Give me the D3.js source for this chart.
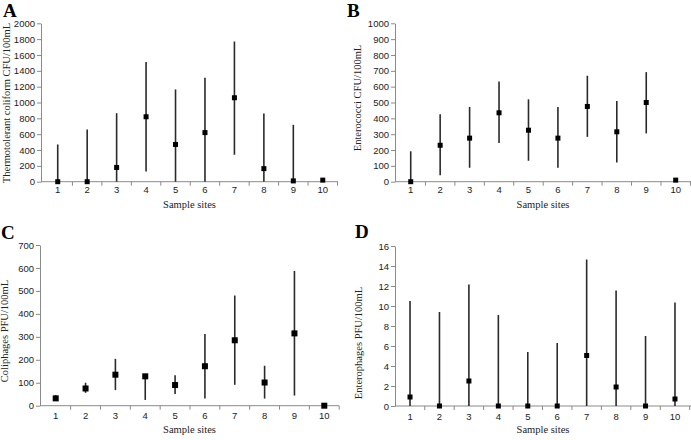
<!DOCTYPE html>
<html>
<head>
<meta charset="utf-8">
<script src="https://cdn.jsdelivr.net/npm/d3@7"></script>
<style>
  html, body { margin: 0; padding: 0; background: #fff; }
  svg { display: block; }
</style>
</head>
<body>
<svg id="chart" width="691" height="440"></svg>
<script>
// ---- Data ----
const sites = ["1","2","3","4","5","6","7","8","9","10"];

// Panel A: Thermotolerant coliform CFU/100mL
const aMean = [0, 0, 180, 820, 470, 620, 1060, 165, 10, 20];
const aLow  = [0, 0, 0, 130, 0, 0, 340, 0, 0, null];
const aHigh = [470, 660, 865, 1510, 1165, 1312, 1770, 860, 718, null];
const aTicks = [0,200,400,600,800,1000,1200,1400,1600,1800,2000];

// Panel B: Enterococci CFU/100mL
const bMean = [0, 230, 275, 435, 325, 275, 475, 315, 500, 10];
const bLow  = [0, 40, 88, 245, 132, 88, 283, 122, 305, null];
const bHigh = [192, 426, 472, 632, 520, 472, 669, 510, 692, null];
const bTicks = [0,100,200,300,400,500,600,700,800,900,1000];

// Panel C: Coliphages PFU/100mL
const cMean = [32, 75, 135, 128, 90, 172, 285, 101, 315, 0];
const cLow  = [22, 56, 68, 25, 51, 31, 91, 31, 44, null];
const cHigh = [46, 100, 204, 132, 133, 312, 480, 174, 587, null];
const cTicks = [0,100,200,300,400,500,600,700];

// Panel D: Enterophages PFU/100mL
const dMean = [0.9, 0, 2.5, 0, 0, 0, 5.05, 1.9, 0, 0.7];
const dLow  = [0, 0, 0, 0, 0, 0, 0, 0, 0, 0];
const dHigh = [10.5, 9.4, 12.15, 9.1, 5.4, 6.3, 14.65, 11.55, 7.0, 10.35];
const dTicks = [0,2,4,6,8,10,12,14,16];

const svg = d3.select("#chart");

const panels = [
  { letter: "A", lx: 3, ly: 17, mean: aMean, low: aLow, high: aHigh, ticks: aTicks, ymax: 2000,
    yLabel: "Thermotolerant coliform CFU/100mL", ylX: 8, ylY: 103, x0: 41, xr: [43, 337.5], xEnd: 338,
    top: 23.3, bottom: 181.7, tickPad: 5, xLabelY: 208, marker: 5 },
  { letter: "B", lx: 347, ly: 17, mean: bMean, low: bLow, high: bHigh, ticks: bTicks, ymax: 1000,
    yLabel: "Enterococci CFU/100mL", ylX: 359, ylY: 98, x0: 395, xr: [396, 690.4], xEnd: 691,
    top: 23.3, bottom: 181.7, tickPad: 5, xLabelY: 208, marker: 5 },
  { letter: "C", lx: 1, ly: 239, mean: cMean, low: cLow, high: cHigh, ticks: cTicks, ymax: 700,
    yLabel: "Coliphages PFU/100mL", ylX: 6, ylY: 331, x0: 40, xr: [40.8, 339.2], xEnd: 339,
    top: 245, bottom: 405.7, tickPad: 7, xLabelY: 433, marker: 6 },
  { letter: "D", lx: 355, ly: 238, mean: dMean, low: dLow, high: dHigh, ticks: dTicks, ymax: 16,
    yLabel: "Enterophages PFU/100mL", ylX: 360, ylY: 343, x0: 395, xr: [395.3, 689.7], xEnd: 691,
    top: 246, bottom: 406, tickPad: 7, xLabelY: 433, marker: 5 }
];

panels.forEach(p => {
  const g = svg.append("g");
  const x = d3.scaleBand().domain(sites).range(p.xr).padding(0);
  const y = d3.scaleLinear().domain([0, p.ymax]).range([p.bottom, p.top]);

  // Panel letter
  g.append("text")
    .attr("x", p.lx).attr("y", p.ly)
    .attr("font-family", "Liberation Serif, serif")
    .attr("font-weight", "bold")
    .attr("font-size", 19)
    .attr("fill", "#000")
    .text(p.letter);

  // Y axis
  const yAxis = d3.axisLeft(y).tickValues(p.ticks).tickFormat(d3.format("d"))
    .tickSize(4).tickSizeOuter(0).tickPadding(2);
  const ya = g.append("g").attr("transform", `translate(${p.x0},0)`).call(yAxis);
  ya.select(".domain").attr("stroke", "#8a8a8a");
  ya.selectAll(".tick line").attr("stroke", "#8a8a8a");
  ya.selectAll(".tick text")
    .attr("font-family", "Liberation Sans, Arial, sans-serif")
    .attr("font-size", 9.5)
    .attr("fill", "#222");

  // X axis line
  g.append("line")
    .attr("x1", p.x0).attr("x2", p.xEnd)
    .attr("y1", p.bottom).attr("y2", p.bottom)
    .attr("stroke", "#8a8a8a");
  // boundary ticks
  const bounds = sites.map(s => x(s)).concat([x(sites[sites.length - 1]) + x.bandwidth()]);
  g.selectAll(".xb").data(bounds.slice(1)).enter().append("line")
    .attr("x1", d => d).attr("x2", d => d)
    .attr("y1", p.bottom).attr("y2", p.bottom + 4)
    .attr("stroke", "#8a8a8a");
  // x labels at centres
  const xAxis = d3.axisBottom(x).tickSize(0).tickPadding(p.tickPad);
  const xa = g.append("g").attr("transform", `translate(0,${p.bottom})`).call(xAxis);
  xa.select(".domain").remove();
  xa.selectAll(".tick text")
    .attr("font-family", "Liberation Sans, Arial, sans-serif")
    .attr("font-size", 9.5)
    .attr("fill", "#222");

  // x title
  g.append("text")
    .attr("x", (p.x0 + p.xEnd) / 2)
    .attr("y", p.xLabelY)
    .attr("text-anchor", "middle")
    .attr("font-family", "Liberation Serif, serif")
    .attr("font-size", 10.5)
    .attr("fill", "#222")
    .text("Sample sites");

  // y title
  g.append("text")
    .attr("transform", `translate(${p.ylX},${p.ylY}) rotate(-90)`)
    .attr("text-anchor", "middle")
    .attr("dominant-baseline", "middle")
    .attr("font-family", "Liberation Serif, serif")
    .attr("font-size", 10.5)
    .attr("fill", "#222")
    .text(p.yLabel);

  const rows = sites.map((s, i) => ({ s, m: p.mean[i], lo: p.low[i], hi: p.high[i] }));
  const cx = d => x(d.s) + x.bandwidth() / 2;

  // error bars
  g.selectAll(".err").data(rows.filter(d => d.hi !== null)).enter().append("line")
    .attr("x1", cx).attr("x2", cx)
    .attr("y1", d => y(d.lo)).attr("y2", d => y(d.hi))
    .attr("stroke", "#2a2a2a")
    .attr("stroke-width", 1.6);

  // markers
  g.selectAll(".pt").data(rows).enter().append("rect")
    .attr("x", d => cx(d) - p.marker / 2)
    .attr("y", d => y(d.m) - p.marker / 2)
    .attr("width", p.marker).attr("height", p.marker)
    .attr("fill", "#000");
});
</script>
</body>
</html>
